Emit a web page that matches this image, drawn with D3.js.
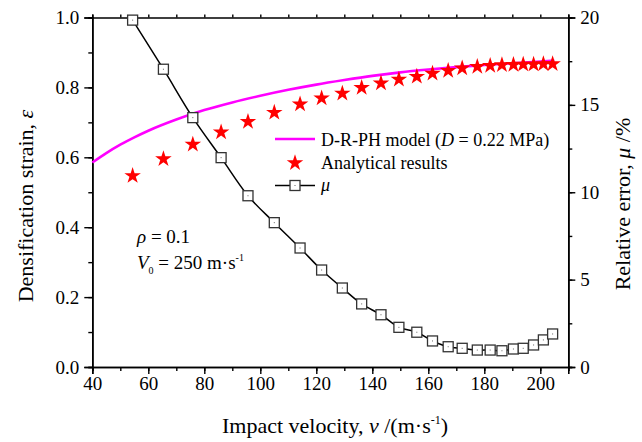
<!DOCTYPE html>
<html><head><meta charset="utf-8">
<script src="https://cdn.jsdelivr.net/npm/d3@7"></script>
</head><body style="margin:0">
<svg id="c" width="642" height="442"></svg>
<script>
// ---- data ----
const velocity = [54.4,65.4,75.9,86.0,95.6,105.0,114.2,121.9,129.3,136.2,143.1,149.5,155.9,161.5,167.1,172.1,177.5,182.1,186.3,190.4,193.9,197.6,201.1,204.4];
const analytical = [0.547,0.595,0.637,0.672,0.702,0.728,0.752,0.769,0.783,0.799,0.812,0.823,0.831,0.840,0.848,0.855,0.859,0.862,0.864,0.865,0.866,0.866,0.867,0.867];
const relError = [19.85,17.04,14.27,11.98,9.80,8.26,6.81,5.55,4.52,3.61,2.99,2.27,1.99,1.49,1.16,1.07,0.97,0.97,0.93,1.03,1.07,1.26,1.55,1.89];
const modelV = [40,45,50,55,60,70,80,90,100,110,120,130,140,150,160,170,180,190,200,205];
const modelStrain = [0.585,0.612,0.636,0.657,0.676,0.708,0.735,0.757,0.776,0.793,0.808,0.821,0.833,0.843,0.851,0.858,0.864,0.869,0.874,0.877];
const xTicks = [40,60,80,100,120,140,160,180,200];
const yLeftTicks = [0,0.2,0.4,0.6,0.8,1.0];
const yRightTicks = [0,5,10,15,20];

const svg = d3.select("#c");
const L=92.3, R=568.3, T=17.5, B=367;
const x = d3.scaleLinear().domain([40,210]).range([L,R]);
const yL = d3.scaleLinear().domain([0,1]).range([B,T]);
const yR = d3.scaleLinear().domain([0,20]).range([B,T]);

function styleAxis(g){
  g.selectAll("path").attr("stroke","#000").attr("stroke-width",1.6);
  g.selectAll("line").attr("stroke","#000").attr("stroke-width",1.4);
  g.selectAll("text").attr("fill","#000").style("font-size","19px"); }
const xMinor = d3.range(40,211,10);
svg.append("g").attr("transform",`translate(0,${B})`).call(d3.axisBottom(x).tickValues(xMinor).tickSize(4).tickFormat("")).call(styleAxis);
svg.append("g").attr("transform",`translate(0,${B})`).call(d3.axisBottom(x).tickValues(xTicks).tickSize(7).tickPadding(3).tickFormat(d3.format("d"))).call(styleAxis);
svg.append("g").attr("transform",`translate(0,${T})`).call(d3.axisTop(x).tickValues(xMinor).tickSize(3).tickFormat("")).call(styleAxis);
svg.append("g").attr("transform",`translate(${L},0)`).call(d3.axisLeft(yL).tickValues(d3.range(0,1.01,0.1)).tickSize(4).tickFormat("")).call(styleAxis);
svg.append("g").attr("transform",`translate(${L},0)`).call(d3.axisLeft(yL).tickValues(yLeftTicks).tickSize(8).tickPadding(5).tickFormat(d3.format(".1f"))).call(styleAxis);
svg.append("g").attr("transform",`translate(${R},0)`).call(d3.axisRight(yR).tickValues(d3.range(0,20.1,2.5)).tickSize(4).tickFormat("")).call(styleAxis);
svg.append("g").attr("transform",`translate(${R},0)`).call(d3.axisRight(yR).tickValues(yRightTicks).tickSize(7).tickPadding(5).tickFormat(d3.format("d"))).call(styleAxis);

const modelData = modelV.map((v,i)=>[v,modelStrain[i]]);
svg.append("path").datum(modelData).attr("fill","none").attr("stroke","#ff00ff").attr("stroke-width",2.6)
  .attr("d",d3.line().x(d=>x(d[0])).y(d=>yL(d[1])).curve(d3.curveMonotoneX));

const muData = velocity.map((v,i)=>[v,relError[i]]);
svg.append("path").datum(muData).attr("fill","none").attr("stroke","#000").attr("stroke-width",1.5)
  .attr("d",d3.line().x(d=>x(d[0])).y(d=>yR(d[1])).curve(d3.curveCatmullRom));
function square(g,cx,cy){
  g.append("rect").attr("x",cx-5).attr("y",cy-5).attr("width",10).attr("height",10).attr("fill","#fff").attr("stroke","#333").attr("stroke-width",1.3);
  g.append("rect").attr("x",cx-0.5).attr("y",cy-0.5).attr("width",1).attr("height",1).attr("fill","#666");
}
const mg = svg.append("g");
muData.forEach(d=>square(mg,x(d[0]),yR(d[1])));

const star = d3.symbol().type(d3.symbolStar).size(85);
svg.append("g").selectAll("path").data(velocity.map((v,i)=>[v,analytical[i]])).join("path")
  .attr("d",star).attr("fill","#ff0000").attr("transform",d=>`translate(${x(d[0])},${yL(d[1])})`);

const lg = svg.append("g");
lg.append("line").attr("x1",275).attr("x2",315).attr("y1",139).attr("y2",139).attr("stroke","#ff00ff").attr("stroke-width",2.6);
let t = lg.append("text").attr("x",321).attr("y",145.5).style("font-size","18px");
t.append("tspan").text("D-R-PH model (");
t.append("tspan").style("font-style","italic").text("D");
t.append("tspan").text(" = 0.22 MPa)");
lg.append("path").attr("d",star).attr("fill","#ff0000").attr("transform","translate(295,163)");
lg.append("text").attr("x",321).attr("y",168.5).style("font-size","18px").text("Analytical results");
lg.append("line").attr("x1",275).attr("x2",315).attr("y1",185.5).attr("y2",185.5).attr("stroke","#000").attr("stroke-width",1.5);
square(lg,295,185.5);
lg.append("text").attr("x",321).attr("y",191).style("font-size","18px").style("font-style","italic").text("μ");

let a1 = svg.append("text").attr("x",137).attr("y",243).style("font-size","19px");
a1.append("tspan").style("font-style","italic").text("ρ");
a1.append("tspan").text(" = 0.1");
let a2 = svg.append("text").attr("x",137).attr("y",269).style("font-size","19px");
a2.append("tspan").style("font-style","italic").text("V");
a2.append("tspan").attr("dy",5).style("font-size","10px").text("0");
a2.append("tspan").attr("dy",-5).text(" = 250 m·s");
a2.append("tspan").attr("dy",-8).style("font-size","10px").text("-1");

let xt = svg.append("text").attr("x",335).attr("y",433).attr("text-anchor","middle").style("font-size","22px");
xt.append("tspan").text("Impact velocity, ");
xt.append("tspan").style("font-style","italic").text("v");
xt.append("tspan").text(" /(m·s");
xt.append("tspan").attr("dy",-9).style("font-size","12px").text("-1");
xt.append("tspan").attr("dy",9).text(")");

let yt = svg.append("text").attr("transform","translate(33,206) rotate(-90)").attr("text-anchor","middle").style("font-size","22px");
yt.append("tspan").text("Densification strain, ");
yt.append("tspan").style("font-style","italic").text("ε");

let rt = svg.append("text").attr("transform","translate(630,204) rotate(-90)").attr("text-anchor","middle").style("font-size","22px");
rt.append("tspan").text("Relative error, ");
rt.append("tspan").style("font-style","italic").text("μ");
rt.append("tspan").text(" /%");

svg.selectAll("text").style("font-family",'"Liberation Serif"');
svg.selectAll("tspan").style("font-family",'"Liberation Serif"');
</script></body></html>
